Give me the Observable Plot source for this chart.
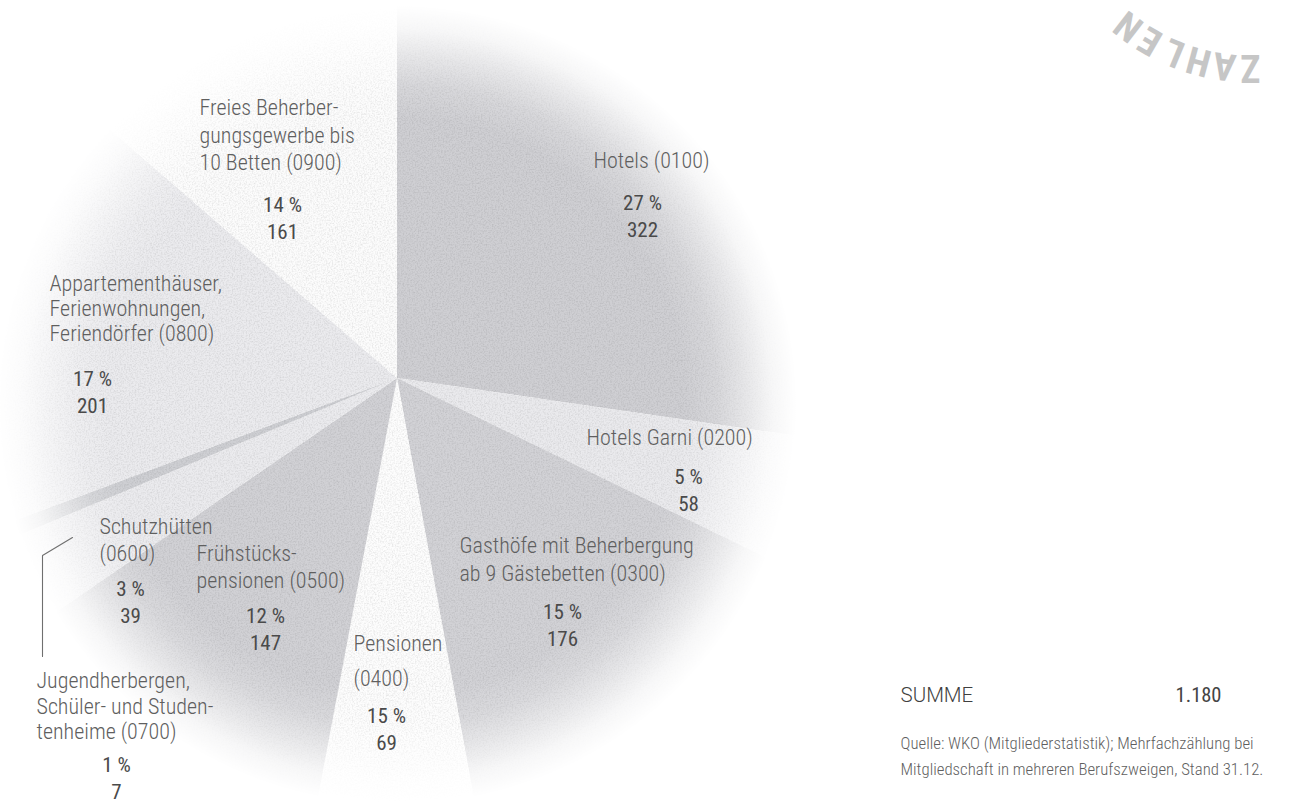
<!DOCTYPE html>
<html>
<head>
<meta charset="utf-8">
<script src="https://cdn.jsdelivr.net/npm/d3@7"></script>
<script src="https://cdn.jsdelivr.net/npm/@observablehq/plot@0.6"></script>
<style>
  html, body { margin: 0; padding: 0; background: #ffffff; }
  #chart { width: 1304px; height: 805px; overflow: hidden; }
</style>
</head>
<body>
<div id="chart"></div>
<script>
// ---------- data ----------
const categories = [
  "Hotels (0100)",
  "Hotels Garni (0200)",
  "Gasthöfe mit Beherbergung ab 9 Gästebetten (0300)",
  "Pensionen (0400)",
  "Frühstückspensionen (0500)",
  "Schutzhütten (0600)",
  "Jugendherbergen, Schüler- und Studentenheime (0700)",
  "Appartementhäuser, Ferienwohnungen, Feriendörfer (0800)",
  "Freies Beherbergungsgewerbe bis 10 Betten (0900)"
];
const members = [322, 58, 176, 69, 147, 39, 7, 201, 161];
const shareLabels = ["27 %", "5 %", "15 %", "15 %", "12 %", "3 %", "1 %", "17 %", "14 %"];
const labelLines = [
  ["Hotels (0100)"],
  ["Hotels Garni (0200)"],
  ["Gasthöfe mit Beherbergung", "ab 9 Gästebetten (0300)"],
  ["Pensionen", "(0400)"],
  ["Frühstücks-", "pensionen (0500)"],
  ["Schutzhütten", "(0600)"],
  ["Jugendherbergen,", "Schüler- und Studen-", "tenheime (0700)"],
  ["Appartementhäuser,", "Ferienwohnungen,", "Feriendörfer (0800)"],
  ["Freies Beherber-", "gungsgewerbe bis", "10 Betten (0900)"]
];
const totalLabel = "SUMME";
const sourceLines = [
  "Quelle: WKO (Mitgliederstatistik); Mehrfachzählung bei",
  "Mitgliedschaft in mehreren Berufszweigen, Stand 31.12."
];
const stampWord = "ZAHLEN";

// ---------- styles / layout ----------
const sliceColors = ["#cfcfd3", "#eaeaed", "#d2d2d6", "#fdfdfd", "#d1d1d5", "#ebebee", "#cecfd3", "#ebebee", "#fcfcfc"];
const W = 1304, H = 805;
const pieCenter = [397, 378];
const pieRadius = 640;
const fade = {cx: 397, cy: 405, r: 400};
const FONT = "'Roboto Condensed', Roboto, 'Liberation Sans Narrow', sans-serif";
const labelLayout = [
  {x: 593, y: 152, gap: 27,   nx: 642, ny: 190},
  {x: 586, y: 429, gap: 27,   nx: 688, ny: 464},
  {x: 459, y: 537, gap: 28,   nx: 562, ny: 599},
  {x: 353, y: 635, gap: 35,   nx: 386, ny: 703},
  {x: 196, y: 545, gap: 27,   nx: 265, ny: 603},
  {x: 99,  y: 518, gap: 27,   nx: 130, ny: 576},
  {x: 36,  y: 672, gap: 25.5, nx: 116, ny: 752},
  {x: 49,  y: 275, gap: 25,   nx: 92,  ny: 366},
  {x: 199, y: 99,  gap: 27.5, nx: 282, ny: 192}
];
const leaderPath = [[72, 537], [42, 555], [42, 656]];
const stamp = {cx: 1250, cy: -133, r: 200, start: 0, step: 7.5};

const deFormat = d3.formatLocale({decimal: ",", thousands: ".", grouping: [3], currency: ["", " €"]}).format(",");
const totalValue = deFormat(d3.sum(members));

const colorScale = Plot.scale({color: {type: "ordinal", domain: categories, range: sliceColors}});

// ---------- pie mark (render function using Plot's scales) ----------
function pieMark(index, scales) {
  const sx = scales && typeof scales.x === "function" ? scales.x : (v => v);
  const sy = scales && typeof scales.y === "function" ? scales.y : (v => v);
  const cx = sx(pieCenter[0]), cy = sy(pieCenter[1]);
  const R = Math.abs(sx(pieCenter[0] + pieRadius) - cx);
  const fx = sx(fade.cx), fy = sy(fade.cy);
  const fr = Math.abs(sx(fade.cx + fade.r) - fx);
  const arcs = d3.pie().sort(null).value(d => d)(members);
  const arc = d3.arc().innerRadius(0).outerRadius(R);
  const g = d3.create("svg:g");
  const defs = g.append("defs");
  const grad = defs.append("radialGradient")
    .attr("id", "pieFade").attr("gradientUnits", "userSpaceOnUse")
    .attr("cx", fx).attr("cy", fy).attr("r", fr);
  [[0, "#ffffff"], [0.72, "#ffffff"], [0.8, "#d2d2d2"], [0.87, "#828282"], [0.94, "#2a2a2a"], [1, "#000000"]]
    .forEach(([o, c]) => grad.append("stop").attr("offset", o).attr("stop-color", c));
  const mask = defs.append("mask").attr("id", "pieMask").attr("maskUnits", "userSpaceOnUse")
    .attr("x", 0).attr("y", 0).attr("width", W).attr("height", H);
  mask.append("rect").attr("x", 0).attr("y", 0).attr("width", W).attr("height", H).attr("fill", "url(#pieFade)");
  const filter = defs.append("filter").attr("id", "grain").attr("filterUnits", "userSpaceOnUse")
    .attr("x", 0).attr("y", 0).attr("width", W).attr("height", H)
    .attr("color-interpolation-filters", "sRGB");
  filter.append("feTurbulence").attr("type", "fractalNoise").attr("baseFrequency", 0.65)
    .attr("numOctaves", 2).attr("seed", 4).attr("result", "noise");
  filter.append("feColorMatrix").attr("in", "noise").attr("type", "matrix")
    .attr("values", "0.2 0 0 0 0.88  0.2 0 0 0 0.88  0.2 0 0 0 0.88  0 0 0 0 1").attr("result", "g");
  filter.append("feBlend").attr("in", "SourceGraphic").attr("in2", "g").attr("mode", "multiply");

  const outer = g.append("g").attr("mask", "url(#pieMask)");
  const inner = outer.append("g").attr("filter", "url(#grain)");
  inner.append("g").attr("transform", `translate(${cx},${cy})`)
    .selectAll("path").data(arcs).join("path")
    .attr("d", arc)
    .attr("fill", (d, i) => colorScale.apply(categories[i]));
  return g.node();
}

// ---------- label rows ----------
const nameRows = labelLines.flatMap((lines, i) =>
  lines.map((t, j) => ({text: t, x: labelLayout[i].x, y: labelLayout[i].y + j * labelLayout[i].gap})));
const numberRows = categories.map((c, i) => ({
  text: `${shareLabels[i]}\n${members[i]}`, x: labelLayout[i].nx, y: labelLayout[i].ny
}));
const stampRows = Array.from(stampWord).map((ch, i) => {
  const phi = stamp.start + i * stamp.step;
  const rad = phi * Math.PI / 180;
  return {ch, x: stamp.cx - stamp.r * Math.sin(rad), y: stamp.cy + stamp.r * Math.cos(rad), rotate: 180 + phi};
});

const chart = Plot.plot({
  width: W,
  height: H,
  margin: 0,
  x: {domain: [0, W], range: [0, W], axis: null},
  y: {domain: [0, H], range: [0, H], axis: null},
  style: {background: "#ffffff", fontFamily: FONT, overflow: "hidden"},
  marks: [
    pieMark,
    Plot.line(leaderPath, {x: d => d[0], y: d => d[1], stroke: "#6f6f6f", strokeWidth: 1.1}),
    Plot.text(nameRows, {x: "x", y: "y", text: "text", textAnchor: "start", lineAnchor: "top",
      fontSize: 22, fontWeight: 300, fill: "#5f5f5f", fontFamily: FONT}),
    Plot.text(numberRows, {x: "x", y: "y", text: "text", textAnchor: "middle", lineAnchor: "top",
      lineHeight: 1.3, fontSize: 21, fontWeight: 400, fill: "#4a4a4a", fontFamily: FONT}),
    Plot.text(stampRows, {x: "x", y: "y", text: "ch", rotate: "rotate", textAnchor: "middle", lineAnchor: "middle",
      fontSize: 38, fontWeight: 700, fill: "#c6c6c6", fontFamily: FONT}),
    Plot.text([totalLabel], {x: () => 900, y: () => 687, text: d => d, textAnchor: "start", lineAnchor: "top",
      fontSize: 20.5, fontWeight: 300, fill: "#3f3f3f", fontFamily: "Roboto, sans-serif"}),
    Plot.text([totalValue], {x: () => 1221, y: () => 687, text: d => d, textAnchor: "end", lineAnchor: "top",
      fontSize: 20.5, fontWeight: 400, fill: "#444444", fontFamily: FONT}),
    Plot.text(sourceLines, {x: () => 900, y: (d, i) => 737 + i * 26, text: d => d, textAnchor: "start", lineAnchor: "top",
      fontSize: 16.8, fontWeight: 300, fill: "#5f5f5f", fontFamily: FONT})
  ]
});
document.getElementById("chart").appendChild(chart);
</script>
</body>
</html>
